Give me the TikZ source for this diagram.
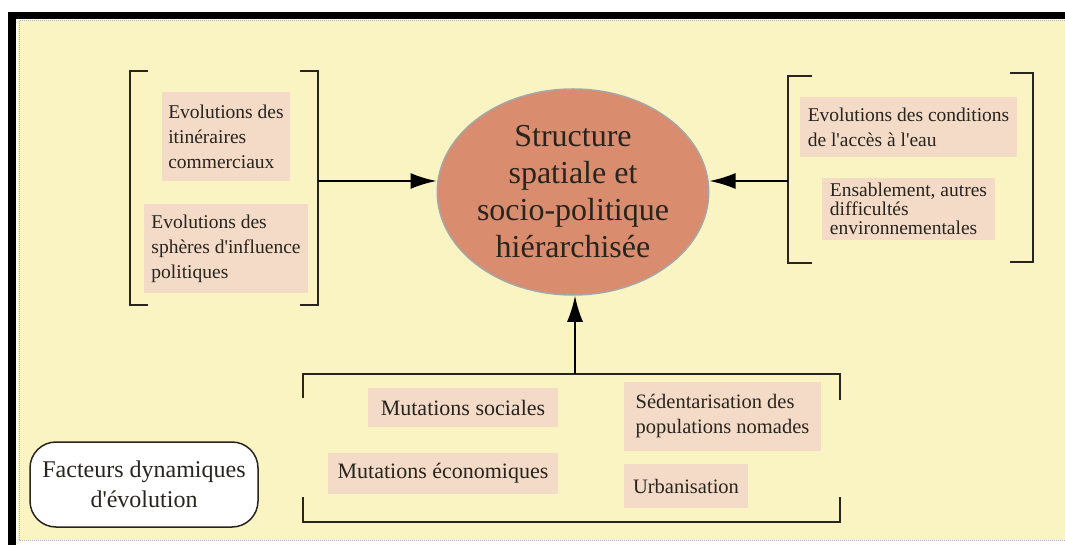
\documentclass[tikz,border=0pt]{standalone}
\usepackage{fontspec}
\setmainfont{Liberation Serif}
\usetikzlibrary{shapes,arrows.meta,positioning,calc}

\definecolor{fond}{RGB}{250,244,194}
\definecolor{rose}{RGB}{243,219,199}
\definecolor{brique}{RGB}{218,140,110}
\definecolor{encre}{RGB}{40,36,30}

\newcommand{\apos}{\textquotesingle}

\begin{document}
\begin{tikzpicture}[x=1pt, y=-1pt,
  facteur/.style={fill=rose, text=encre, align=left, font=\fontsize{19.5}{25}\selectfont, inner sep=0pt},
  crochet/.style={line width=1.6pt, draw=encre},
  fleche/.style={line width=2pt, draw=black, -{Latex[length=26pt,width=16pt]}}]
\useasboundingbox (0,0) rectangle (1065,545);

% cadre
\fill[black] (8,12) rectangle (1065,19);
\fill[black] (8,12) rectangle (16,545);
\fill[fond] (18,20) rectangle (1065,540);
\draw[black!30, densely dotted, line width=1pt] (1065,21) -- (19,21) -- (19,540) -- (1065,540);

% structure centrale
\node[draw=black!35, line width=1.5pt, fill=brique, ellipse, minimum width=230, minimum height=206, inner sep=0pt, align=center, text=encre, font=\fontsize{32}{37}\selectfont] (struct) at (573,192) {Structure\\spatiale et\\socio-politique\\hiérarchisée};

% facteurs a gauche
\node[facteur, minimum width=128, minimum height=89] (itin) at (226,136.5) {Evolutions des\\itinéraires\\commerciaux};
\node[facteur, minimum width=164, minimum height=89] (spheres) at (226,248.5) {Evolutions des\\sphères d\apos influence\\politiques};

% facteurs a droite
\node[facteur, minimum width=217, minimum height=60] (eau) at (908.5,127) {Evolutions des conditions\\de l\apos accès à l\apos eau};
\node[facteur, minimum width=173, minimum height=62, font=\fontsize{19.5}{19}\selectfont] (ensab) at (908.5,209) {Ensablement, autres\\difficultés\\environnementales};

% facteurs en bas
\node[facteur, minimum width=190, minimum height=39, font=\fontsize{22}{25}\selectfont] (msoc) at (463,407.5) {Mutations sociales};
\node[facteur, minimum width=230, minimum height=41, font=\fontsize{22}{25}\selectfont] (meco) at (443,473.5) {Mutations économiques};
\node[facteur, minimum width=197, minimum height=69, font=\fontsize{20.5}{25}\selectfont] (seden) at (722.5,416.5) {Sédentarisation des\\populations nomades};
\node[facteur, minimum width=124, minimum height=44, font=\fontsize{20.5}{25}\selectfont] (urban) at (686,486) {Urbanisation};

% legende
\node[draw=encre, line width=1.5pt, fill=white, rounded corners=26pt, minimum width=228, minimum height=85, align=center, text=encre, font=\fontsize{24}{30}\selectfont] (legende) at (144,484.5) {Facteurs dynamiques\\d\apos évolution};

% crochets
\draw[crochet] (148,71) -- (130,71) -- (130,305) -- (148,305);
\draw[crochet] (300,71) -- (318,71) -- (318,305) -- (300,305);
\draw[crochet] (812,76) -- (788,76) -- (788,263) -- (812,263);
\draw[crochet] (1010,73) -- (1033,73) -- (1033,262) -- (1010,262);
\draw[crochet] (303,398) -- (303,374) -- (840,374) -- (840,400);
\draw[crochet] (303,497) -- (303,522) -- (840,522) -- (840,497);

% points de depart
\coordinate (gauche) at (318,181);
\coordinate (droite) at (788,181);
\coordinate (bas) at (575,374);

% fleches
\draw[fleche] (gauche) -- (gauche -| struct.west);
\draw[fleche] (droite) -- (droite -| struct.east);
\draw[fleche] (bas) -- (bas |- struct.south);
\end{tikzpicture}
\end{document}
